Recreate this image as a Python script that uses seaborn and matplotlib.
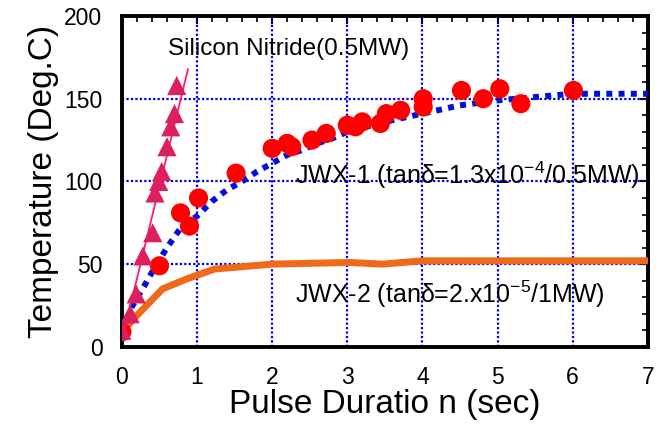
import numpy as np
import pandas as pd
import seaborn as sns
import matplotlib.pyplot as plt
from matplotlib.ticker import MultipleLocator

# Silicon Nitride (0.5MW) triangles + fit line
sin_x = [0, 0.11, 0.19, 0.28, 0.41, 0.44, 0.49, 0.53, 0.6, 0.65, 0.7, 0.73]
sin_y = [10, 20, 32, 55, 69, 93, 100, 106, 121, 133, 141, 158]
sin_fit_x = [0, 0.88]
sin_fit_y = [4, 168]

# JWX-1 measured (red circles)
jwx1_x = [0, 0.5, 0.78, 0.9, 1.02, 1.52, 2.0, 2.2, 2.26, 2.53, 2.72, 3.0, 3.11, 3.2,
          3.44, 3.52, 3.71, 4.01, 4.01, 4.52, 4.81, 5.03, 5.31, 6.01]
jwx1_y = [9, 49, 81, 73, 90, 105, 120, 123, 121, 125, 129, 134, 133, 136,
          135, 141, 143, 150, 145, 155, 150, 156, 147, 155]

# JWX-1 calculated (blue dotted)
calc1_x = [0, 0.13, 0.3, 0.4, 0.6, 0.8, 1.0, 1.2, 1.4, 1.6, 1.8, 2.0, 2.2, 2.4, 2.6,
           2.8, 3.0, 3.5, 4.0, 4.5, 5.0, 5.5, 6.0, 6.5, 7.0]
calc1_y = [10, 24, 37, 45, 60, 73, 79, 88, 95, 100, 106, 111, 116, 119, 123,
           126, 130, 136, 141, 146, 149, 151, 153, 153, 153]

# JWX-2 calculated (orange)
jwx2_x = [0, 0.2, 0.54, 0.86, 1.23, 2.0, 3.03, 3.47, 4.0, 5.0, 6.0, 7.0]
jwx2_y = [9, 19, 35, 41, 47, 50, 51, 50, 52, 52, 52, 52]

sns.set_theme(style="white", rc={"text.color": "black", "axes.labelcolor": "black",
                                 "xtick.color": "black", "ytick.color": "black"})
plt.rcParams['font.family'] = ['Liberation Sans', 'DejaVu Sans']
plt.rcParams['mathtext.fontset'] = 'custom'
plt.rcParams['mathtext.rm'] = 'Liberation Sans'
plt.rcParams['mathtext.default'] = 'regular'

fig = plt.figure(figsize=(6.59, 4.33), dpi=100)
ax = fig.add_axes([0.185, 0.199, 0.798, 0.764])

# grid
for gx in range(1, 7):
    ax.axvline(gx, color="#0000dd", lw=1.6, ls=(0, (1, 1)), zorder=1)
for gy in [50, 100, 150]:
    ax.axhline(gy, color="#0000dd", lw=1.6, ls=(0, (1, 1)), zorder=1)

sns.lineplot(x=jwx2_x, y=jwx2_y, color="#ee6a1a", lw=5, ax=ax, zorder=3)
sns.lineplot(x=calc1_x, y=calc1_y, color="#0010d8", lw=4.3, ax=ax, zorder=4,
             dashes=False, linestyle=(0, (1, 1.05)), solid_capstyle="butt")
sns.scatterplot(x=jwx1_x, y=jwx1_y, color="#ff0000", s=190, edgecolor="none",
                ax=ax, zorder=5)
sns.lineplot(x=sin_fit_x, y=sin_fit_y, color="#ff1a75", lw=1.3, ax=ax, zorder=6)
sns.scatterplot(x=sin_x, y=sin_y, color="#dc1f5f", marker="^", s=190,
                edgecolor="none", ax=ax, zorder=7)

ax.set_xlim(0, 7)
ax.set_ylim(0, 200)
ax.xaxis.set_major_locator(MultipleLocator(1))
ax.xaxis.set_minor_locator(MultipleLocator(0.2))
ax.yaxis.set_major_locator(MultipleLocator(50))
ax.yaxis.set_minor_locator(MultipleLocator(10))
ax.tick_params(which="both", direction="in", top=True, right=True, color="black")
ax.tick_params(which="major", length=6, width=1.5, labelsize=16.5, pad=14)
ax.tick_params(which="minor", length=4, width=1.2)
for sp in ax.spines.values():
    sp.set_color("black")
    sp.set_linewidth(2.8)

ax.set_xlabel("Pulse Duratio n (sec)", fontsize=24, labelpad=0)
ax.set_ylabel("Temperature (Deg.C)", fontsize=24, labelpad=4)

ax.text(0.62, 180, "Silicon Nitride(0.5MW)", fontsize=17.5, va="center", zorder=8)
ax.text(2.3, 104, "JWX-1 (tanδ=1.3x10$^{-4}$/0.5MW)", fontsize=18, va="center", zorder=8)
ax.text(2.3, 32, "JWX-2 (tanδ=2.x10$^{-5}$/1MW)", fontsize=18, va="center", zorder=8)

fig.savefig("out.png", dpi=100)
